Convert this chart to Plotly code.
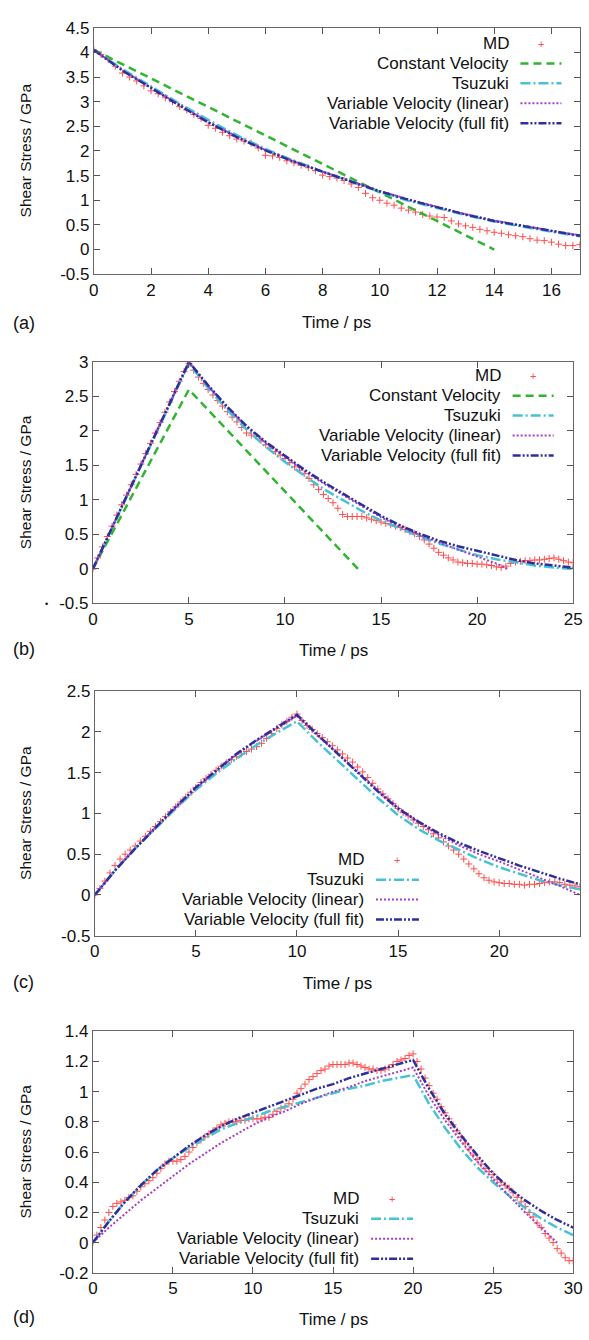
import numpy as np
import plotly.graph_objects as go

W, H = 589, 1340
FONT = "Liberation Sans, Arial, Helvetica, sans-serif"

# ---------------- data ----------------
series_names = ["MD", "Constant Velocity", "Tsuzuki",
                "Variable Velocity (linear)", "Variable Velocity (full fit)"]

# Panel (a) -- MD sampled every 0.25 ps
a_md = [4.05, 3.96, 3.86, 3.72, 3.58, 3.50, 3.42, 3.32, 3.22, 3.16,
        3.08, 3.00, 2.90, 2.83, 2.74, 2.66, 2.52, 2.46, 2.38, 2.31,
        2.24, 2.20, 2.16, 2.06, 1.91, 1.90, 1.87, 1.80, 1.76, 1.71,
        1.66, 1.60, 1.51, 1.48, 1.45, 1.40, 1.33, 1.26, 1.14, 1.05,
        1.00, 0.94, 0.90, 0.84, 0.80, 0.76, 0.71, 0.68, 0.66, 0.65,
        0.58, 0.52, 0.48, 0.45, 0.41, 0.38, 0.35, 0.33, 0.30, 0.28,
        0.26, 0.22, 0.19, 0.18, 0.15, 0.11, 0.08, 0.08, 0.10]
a_model_t = [0, 1, 2, 3, 4, 5, 6, 7, 8, 9, 10, 11, 12, 13, 14, 15, 16, 17]
a_tsuzuki = [4.05, 3.66, 3.31, 2.96, 2.63, 2.32, 2.04, 1.80, 1.58, 1.37,
             1.17, 0.99, 0.84, 0.70, 0.57, 0.46, 0.36, 0.27]
a_vv_lin = [4.05, 3.64, 3.28, 2.93, 2.59, 2.29, 2.02, 1.79, 1.58, 1.39,
            1.19, 1.02, 0.87, 0.72, 0.59, 0.48, 0.38, 0.29]
a_vv_full = [4.05, 3.63, 3.28, 2.92, 2.58, 2.28, 2.01, 1.78, 1.58, 1.38,
             1.18, 1.01, 0.86, 0.71, 0.58, 0.48, 0.38, 0.28]
a_const_t = [0, 14]
a_const = [4.05, 0.0]

# Panel (b)
b_md = [0.00, 0.16, 0.32, 0.47, 0.62, 0.78, 0.93, 1.07, 1.22, 1.37,
        1.52, 1.67, 1.82, 1.97, 2.12, 2.27, 2.42, 2.57, 2.72, 2.86,
        2.98, 2.88, 2.78, 2.69, 2.60, 2.52, 2.44, 2.36, 2.28, 2.20,
        2.13, 2.05, 1.97, 1.94, 1.92, 1.86, 1.80, 1.75, 1.70, 1.65,
        1.60, 1.54, 1.48, 1.43, 1.38, 1.31, 1.22, 1.15, 1.08, 1.02,
        0.96, 0.88, 0.79, 0.76, 0.76, 0.76, 0.76, 0.74, 0.72, 0.70,
        0.68, 0.66, 0.64, 0.62, 0.60, 0.57, 0.54, 0.51, 0.47, 0.42,
        0.36, 0.30, 0.24, 0.20, 0.16, 0.13, 0.10, 0.09, 0.08, 0.08,
        0.07, 0.07, 0.06, 0.05, 0.03, 0.02, 0.04, 0.08, 0.10, 0.11,
        0.12, 0.12, 0.13, 0.13, 0.14, 0.15, 0.16, 0.14, 0.12, 0.10, 0.09]
b_model_t = [0, 1, 2, 3, 4, 5, 6, 7, 8, 9, 10, 11, 12, 13, 14, 15, 16, 17,
             18, 19, 20, 21, 22, 23, 24, 25]
b_tsuzuki = [0.0, 0.60, 1.20, 1.79, 2.39, 2.98, 2.62, 2.30, 2.02, 1.77,
             1.55, 1.35, 1.16, 1.00, 0.84, 0.70, 0.58, 0.47, 0.37, 0.28,
             0.20, 0.14, 0.09, 0.05, 0.02, 0.00]
b_vv_full = [0.0, 0.60, 1.20, 1.80, 2.40, 3.00, 2.66, 2.35, 2.07, 1.84,
             1.64, 1.44, 1.26, 1.09, 0.93, 0.77, 0.63, 0.51, 0.41, 0.33,
             0.26, 0.19, 0.13, 0.08, 0.05, 0.02]
b_vv_lin_t = [0, 1, 2, 3, 4, 5, 6, 7, 8, 9, 10, 11, 12, 13, 14, 15, 16, 17,
              18, 19, 20, 21, 21.6]
b_vv_lin = [0.0, 0.60, 1.20, 1.80, 2.40, 3.00, 2.65, 2.34, 2.06, 1.82,
            1.62, 1.42, 1.24, 1.07, 0.91, 0.75, 0.61, 0.49, 0.38, 0.28,
            0.18, 0.08, 0.00]
b_const_t = [0, 5, 13.8]
b_const = [0.0, 2.6, 0.0]

# Panel (c)
c_md = [0.00, 0.08, 0.17, 0.27, 0.36, 0.44, 0.50, 0.55, 0.60, 0.66,
        0.72, 0.78, 0.84, 0.90, 0.96, 1.02, 1.08, 1.14, 1.20, 1.26,
        1.32, 1.38, 1.43, 1.48, 1.53, 1.58, 1.62, 1.66, 1.70, 1.73,
        1.76, 1.79, 1.82, 1.86, 1.92, 1.98, 2.04, 2.09, 2.13, 2.18,
        2.22, 2.14, 2.08, 2.03, 1.98, 1.93, 1.88, 1.83, 1.78, 1.73,
        1.68, 1.63, 1.57, 1.51, 1.44, 1.37, 1.30, 1.24, 1.18, 1.12,
        1.06, 1.01, 0.97, 0.92, 0.88, 0.84, 0.80, 0.75, 0.70, 0.65,
        0.60, 0.55, 0.50, 0.44, 0.38, 0.32, 0.26, 0.21, 0.18, 0.16,
        0.15, 0.14, 0.14, 0.13, 0.13, 0.12, 0.13, 0.13, 0.14, 0.15,
        0.16, 0.16, 0.15, 0.13, 0.12, 0.11, 0.10]
c_model_t = [0, 1, 2, 3, 4, 5, 6, 7, 8, 9, 10, 11, 12, 13, 14, 15, 16, 17,
             18, 19, 20, 21, 22, 23, 24]
c_tsuzuki = [0.0, 0.30, 0.57, 0.82, 1.06, 1.29, 1.49, 1.67, 1.84, 1.99,
             2.13, 1.88, 1.65, 1.42, 1.19, 0.98, 0.81, 0.67, 0.55, 0.44,
             0.34, 0.26, 0.18, 0.12, 0.07]
c_vv_lin = [0.0, 0.30, 0.57, 0.83, 1.07, 1.31, 1.52, 1.72, 1.89, 2.05,
            2.20, 1.96, 1.73, 1.51, 1.29, 1.07, 0.89, 0.74, 0.61, 0.50,
            0.41, 0.31, 0.21, 0.11, 0.00]
c_vv_full = [0.0, 0.30, 0.57, 0.83, 1.08, 1.32, 1.53, 1.73, 1.90, 2.06,
             2.21, 1.97, 1.74, 1.50, 1.27, 1.06, 0.90, 0.76, 0.64, 0.54,
             0.45, 0.36, 0.28, 0.20, 0.13]

# Panel (d)
d_md = [0.00, 0.05, 0.10, 0.15, 0.20, 0.24, 0.26, 0.27, 0.28, 0.30,
        0.31, 0.34, 0.37, 0.39, 0.41, 0.43, 0.46, 0.49, 0.52, 0.54,
        0.54, 0.54, 0.55, 0.57, 0.60, 0.63, 0.66, 0.68, 0.70, 0.72,
        0.74, 0.76, 0.78, 0.79, 0.80, 0.80, 0.80, 0.81, 0.81, 0.82,
        0.82, 0.82, 0.82, 0.83, 0.83, 0.85, 0.87, 0.89, 0.90, 0.92,
        0.95, 0.99, 1.02, 1.05, 1.08, 1.10, 1.12, 1.14, 1.15, 1.17,
        1.18, 1.18, 1.18, 1.18, 1.19, 1.19, 1.18, 1.17, 1.16, 1.15,
        1.15, 1.14, 1.14, 1.15, 1.16, 1.18, 1.20, 1.21, 1.22, 1.24,
        1.25, 1.20, 1.15, 1.09, 1.04, 0.99, 0.95, 0.90, 0.86, 0.82,
        0.78, 0.74, 0.70, 0.66, 0.62, 0.58, 0.55, 0.52, 0.49, 0.47,
        0.45, 0.42, 0.40, 0.38, 0.36, 0.33, 0.30, 0.27, 0.24, 0.20,
        0.17, 0.13, 0.10, 0.06, 0.03, 0.00, -0.04, -0.07, -0.10, -0.12, -0.12]
d_model_t = [0, 1, 2, 3, 4, 5, 6, 7, 8, 9, 10, 11, 12, 13, 14, 15, 16, 17,
             18, 19, 20, 21, 22, 23, 24, 25, 26, 27, 28, 29, 30]
d_tsuzuki = [0.0, 0.14, 0.27, 0.38, 0.48, 0.56, 0.63, 0.69, 0.75, 0.79,
             0.83, 0.87, 0.90, 0.93, 0.96, 0.99, 1.02, 1.04, 1.07, 1.09,
             1.11, 0.92, 0.76, 0.62, 0.50, 0.40, 0.31, 0.23, 0.16, 0.10, 0.05]
d_vv_full = [0.0, 0.14, 0.27, 0.38, 0.48, 0.56, 0.64, 0.71, 0.77, 0.82,
             0.86, 0.90, 0.94, 0.98, 1.02, 1.05, 1.09, 1.12, 1.15, 1.18,
             1.21, 1.02, 0.85, 0.71, 0.58, 0.46, 0.36, 0.28, 0.21, 0.15, 0.10]
d_vv_lin_t = [0, 1, 2, 3, 4, 5, 6, 7, 8, 9, 10, 11, 12, 13, 14, 15, 16, 17,
              18, 19, 20, 21, 22, 23, 24, 25, 26, 27, 28, 29]
d_vv_lin = [0.0, 0.10, 0.19, 0.28, 0.36, 0.44, 0.52, 0.59, 0.66, 0.72,
            0.78, 0.83, 0.87, 0.92, 0.96, 1.00, 1.03, 1.07, 1.10, 1.13,
            1.16, 0.97, 0.81, 0.67, 0.54, 0.42, 0.31, 0.20, 0.10, 0.00]

# tick labels
a_xticks = [0, 2, 4, 6, 8, 10, 12, 14, 16]
a_yticks = [-0.5, 0, 0.5, 1, 1.5, 2, 2.5, 3, 3.5, 4, 4.5]
a_ytext = ["-0.5", "0", "0.5", "1", "1.5", "2", "2.5", "3", "3.5", "4", "4.5"]
b_xticks = [0, 5, 10, 15, 20, 25]
b_yticks = [-0.5, 0, 0.5, 1, 1.5, 2, 2.5, 3]
b_ytext = ["-0.5", "0", "0.5", "1", "1.5", "2", "2.5", "3"]
c_xticks = [0, 5, 10, 15, 20]
c_yticks = [-0.5, 0, 0.5, 1, 1.5, 2, 2.5]
c_ytext = ["-0.5", "0", "0.5", "1", "1.5", "2", "2.5"]
d_xticks = [0, 5, 10, 15, 20, 25, 30]
d_yticks = [-0.2, 0, 0.2, 0.4, 0.6, 0.8, 1, 1.2, 1.4]
d_ytext = ["-0.2", "0", "0.2", "0.4", "0.6", "0.8", "1", "1.2", "1.4"]

# ---------------- styles ----------------
C_MD = "#ff4d4d"
C_CONST = "#2fb52f"
C_TSU = "#45c3d3"
C_LIN = "#a83cc8"
C_FULL = "#2f2f9c"
STYLE = {
    "Constant Velocity": dict(color=C_CONST, width=2.5, dash="8px,5px"),
    "Tsuzuki": dict(color=C_TSU, width=2.5, dash="10px,3px,2px,3px"),
    "Variable Velocity (linear)": dict(color=C_LIN, width=2, dash="2px,2px"),
    "Variable Velocity (full fit)": dict(color=C_FULL, width=2.5,
                                         dash="8px,2px,2px,2px,2px,2px"),
}
TXT = 17

fig = go.Figure()


def px_x(p):
    return p / W


def px_y(p):
    return 1 - p / H


panels = [
    dict(lab="(a)", box=(91, 589, 19, 269), xr=[0, 17], yr=[-0.5, 4.5],
         xt=a_xticks, yt=a_yticks, ytt=a_ytext,
         md=a_md,
         lines=[("Constant Velocity", a_const_t, a_const),
                ("Tsuzuki", a_model_t, a_tsuzuki),
                ("Variable Velocity (linear)", a_model_t, a_vv_lin),
                ("Variable Velocity (full fit)", a_model_t, a_vv_full)],
         leg=dict(xt=518, y0=35, s0=528, s1=570), title_y=318, lab_y=319),
    dict(lab="(b)", box=(90, 582, 358, 603), xr=[0, 25], yr=[-0.5, 3],
         xt=b_xticks, yt=b_yticks, ytt=b_ytext,
         md=b_md,
         lines=[("Constant Velocity", b_const_t, b_const),
                ("Tsuzuki", b_model_t, b_tsuzuki),
                ("Variable Velocity (linear)", b_vv_lin_t, b_vv_lin),
                ("Variable Velocity (full fit)", b_model_t, b_vv_full)],
         leg=dict(xt=510, y0=372, s0=520, s1=562), title_y=651, lab_y=649),
    dict(lab="(c)", box=(92, 589, 692, 940), xr=[0, 24], yr=[-0.5, 2.5],
         xt=c_xticks, yt=c_yticks, ytt=c_ytext,
         md=c_md,
         lines=[("Tsuzuki", c_model_t, c_tsuzuki),
                ("Variable Velocity (linear)", c_model_t, c_vv_lin),
                ("Variable Velocity (full fit)", c_model_t, c_vv_full)],
         leg=dict(xt=370, y0=863, s0=380, s1=424), title_y=989, lab_y=987),
    dict(lab="(d)", box=(90, 582, 1037, 1282), xr=[0, 30], yr=[-0.2, 1.4],
         xt=d_xticks, yt=d_yticks, ytt=d_ytext,
         md=d_md,
         lines=[("Tsuzuki", d_model_t, d_tsuzuki),
                ("Variable Velocity (linear)", d_vv_lin_t, d_vv_lin),
                ("Variable Velocity (full fit)", d_model_t, d_vv_full)],
         leg=dict(xt=365, y0=1207, s0=375, s1=418), title_y=1329, lab_y=1327),
]

annotations = []
shapes = []
layout = {}
ROW = 20.2

for i, p in enumerate(panels):
    n = "" if i == 0 else str(i + 1)
    xa, ya = "x" + n, "y" + n
    l, r, t, b = p["box"]
    layout["xaxis" + n] = dict(
        domain=[px_x(l), px_x(r)], range=p["xr"], anchor=ya,
        tickvals=p["xt"], ticktext=[str(v) for v in p["xt"]],
        ticks="inside", ticklen=6, tickcolor="#555", mirror="ticks",
        showline=True, linecolor="#666", linewidth=1, showgrid=False,
        zeroline=False, ticklabeloverflow="allow",
        tickfont=dict(family=FONT, size=TXT, color="#111"))
    layout["yaxis" + n] = dict(
        domain=[px_y(b), px_y(t)], range=p["yr"], anchor=xa,
        tickvals=p["yt"], ticktext=p["ytt"],
        ticks="inside", ticklen=6, tickcolor="#555", mirror="ticks",
        showline=True, linecolor="#666", linewidth=1, showgrid=False,
        zeroline=False, ticklabeloverflow="allow",
        tickfont=dict(family=FONT, size=TXT, color="#111"))

    md_t = np.arange(len(p["md"])) * 0.25
    fig.add_trace(go.Scatter(
        x=md_t, y=p["md"], mode="markers", name="MD", xaxis=xa, yaxis=ya,
        showlegend=False,
        marker=dict(symbol="cross-thin", size=5,
                    line=dict(width=1, color=C_MD), color=C_MD)))
    for name, tx, vy in p["lines"]:
        fig.add_trace(go.Scatter(
            x=tx, y=vy, mode="lines", name=name, xaxis=xa, yaxis=ya,
            showlegend=False, line=STYLE[name]))

    annotations.append(dict(x=px_x((l + r) / 2), y=px_y(p["title_y"]),
                             xref="paper", yref="paper", text="Time / ps",
                             showarrow=False, xanchor="center", yanchor="middle",
                             font=dict(family=FONT, size=TXT, color="#111")))
    annotations.append(dict(x=px_x(21), y=px_y((t + b) / 2),
                             xref="paper", yref="paper", text="Shear Stress / GPa",
                             textangle=-90, showarrow=False,
                             xanchor="center", yanchor="middle",
                             font=dict(family=FONT, size=15.5, color="#111")))
    annotations.append(dict(x=px_x(6), y=px_y(p["lab_y"]),
                             xref="paper", yref="paper", text=p["lab"],
                             showarrow=False, xanchor="left", yanchor="middle",
                             font=dict(family=FONT, size=18, color="#111")))

    lg = p["leg"]
    entries = ["MD"] + [nm for nm, _, _ in p["lines"]]
    for k, nm in enumerate(entries):
        yy = lg["y0"] + k * ROW
        annotations.append(dict(x=px_x(lg["xt"]), y=px_y(yy), xref="paper",
                                yref="paper", text=nm, showarrow=False,
                                xanchor="right", yanchor="middle",
                                font=dict(family=FONT, size=TXT, color="#111")))
        if nm == "MD":
            annotations.append(dict(x=px_x((lg["s0"] + lg["s1"]) / 2), y=px_y(yy),
                                    xref="paper", yref="paper", text="+",
                                    showarrow=False, xanchor="center",
                                    yanchor="middle",
                                    font=dict(family=FONT, size=11, color=C_MD)))
        else:
            shapes.append(dict(type="line", xref="paper", yref="paper",
                               x0=px_x(lg["s0"]), x1=px_x(lg["s1"]),
                               y0=px_y(yy), y1=px_y(yy), line=STYLE[nm]))

annotations.append(dict(x=px_x(42), y=px_y(604), xref="paper", yref="paper",
                        text="•", showarrow=False, xanchor="center",
                        yanchor="middle", font=dict(family=FONT, size=9, color="#111")))

fig.update_layout(
    width=W, height=H, margin=dict(l=0, r=0, t=0, b=0),
    paper_bgcolor="white", plot_bgcolor="white",
    annotations=annotations, shapes=shapes, showlegend=False,
    **layout)

fig.write_html("out.html",
               config={"displayModeBar": False},
               post_script="document.body.style.margin='0px';"
                           "document.body.style.overflow='hidden';")
